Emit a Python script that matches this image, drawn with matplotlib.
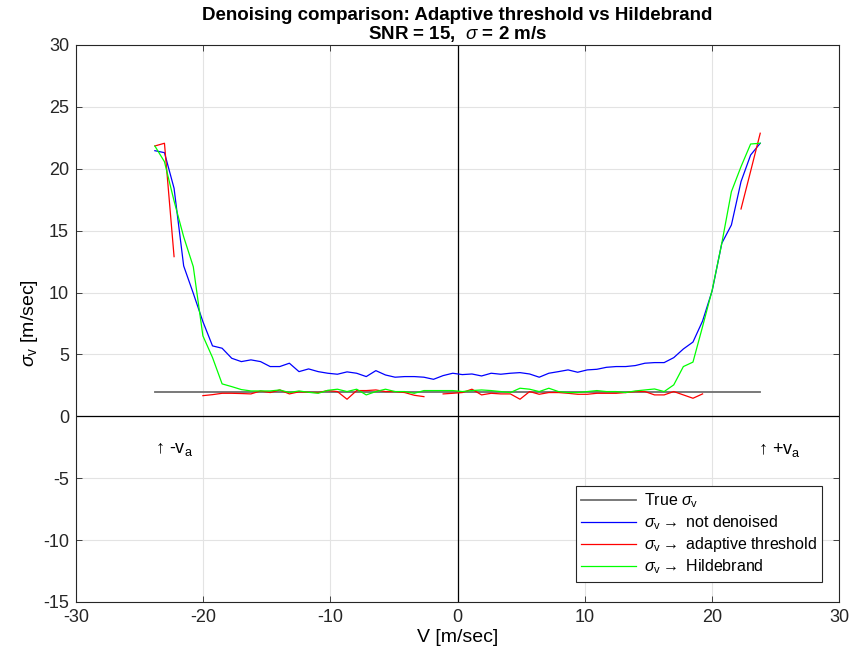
import numpy as np
import matplotlib
matplotlib.use("Agg")
import matplotlib.pyplot as plt

plt.rcParams['font.family'] = ['Liberation Sans', 'DejaVu Sans']
plt.rcParams['mathtext.fontset'] = 'custom'
plt.rcParams['mathtext.rm'] = 'Liberation Sans'
plt.rcParams['mathtext.it'] = 'Liberation Sans:italic'
plt.rcParams['mathtext.bf'] = 'Liberation Sans:bold'
plt.rcParams['axes.unicode_minus'] = False

# Velocity bins (Nyquist velocity v_a = 23.8 m/s, 64 bins)
v_a = 23.8
n_bins = 64
velocity = np.linspace(-v_a, v_a, n_bins)

true_sigma = 2.0

sigma_raw = [21.46, 21.30, 18.42, 12.15, 9.94, 7.65, 5.69, 5.50, 4.69, 4.42,
             4.56, 4.42, 4.02, 4.02, 4.29, 3.61, 3.83, 3.61, 3.48, 3.40,
             3.59, 3.48, 3.21, 3.69, 3.34, 3.16, 3.21, 3.21, 3.16, 2.99,
             3.29, 3.48, 3.37, 3.42, 3.26, 3.48, 3.40, 3.48, 3.53, 3.42,
             3.16, 3.48, 3.61, 3.75, 3.56, 3.75, 3.80, 3.96, 4.02, 4.02,
             4.10, 4.29, 4.34, 4.34, 4.74, 5.44, 6.00, 7.70, 10.15, 13.98,
             15.46, 18.96, 21.11, 22.06]

nan = np.nan
sigma_adaptive = [21.84, 22.06, 12.90, nan, nan, 1.67, 1.75, 1.86, 1.86, 1.84,
                  1.81, 2.05, 1.92, 2.13, 1.81, 1.98, 1.94, 1.92, 2.08, 2.00,
                  1.38, 2.08, 2.08, 2.13, 2.00, 2.00, 1.92, 1.70, 1.59, nan,
                  1.81, 1.86, 1.92, 2.19, 1.73, 1.86, 1.81, 1.81, 1.38, 2.00,
                  1.78, 1.92, 1.92, 1.86, 1.78, 1.78, 1.86, 1.86, 1.86, 1.92,
                  2.00, 2.00, 1.73, 1.73, 2.00, 1.73, 1.46, 1.81, nan, nan,
                  nan, 16.75, 19.80, 22.87]

sigma_hildebrand = [21.84, 20.57, 17.40, 14.50, 12.09, 6.50, 4.75, 2.62, 2.40, 2.16,
                    2.05, 2.05, 2.05, 2.13, 1.92, 2.05, 1.94, 1.86, 2.10, 2.19,
                    2.00, 2.19, 1.73, 2.00, 2.19, 2.00, 2.00, 1.86, 2.08, 2.08,
                    2.08, 2.08, 2.00, 2.08, 2.13, 2.08, 2.00, 1.92, 2.27, 2.19,
                    2.00, 2.27, 2.00, 1.92, 1.92, 2.00, 2.08, 2.00, 2.00, 1.92,
                    2.05, 2.13, 2.21, 2.00, 2.54, 4.02, 4.38, 7.25, 10.20, 13.98,
                    18.15, 20.17, 22.00, 22.06]

x_ticks = [-30, -20, -10, 0, 10, 20, 30]
y_ticks = [-15, -10, -5, 0, 5, 10, 15, 20, 25, 30]

fig = plt.figure(figsize=(8.51, 6.48), dpi=100)
ax = fig.add_axes([0.0893, 0.0710, 0.8967, 0.8596])

ax.set_xlim(-30, 30)
ax.set_ylim(-15, 30)
ax.set_xticks(x_ticks)
ax.set_yticks(y_ticks)
ax.grid(True, color='#e3e3e3', linewidth=0.8)
ax.set_axisbelow(True)

# zero axes
ax.axhline(0, color='black', linewidth=0.9, zorder=1.5)
ax.axvline(0, color='black', linewidth=0.9, zorder=1.5)

ax.plot([velocity[0], velocity[-1]], [true_sigma, true_sigma], color='#6e6e6e',
        linewidth=1.3, label=r'True $\sigma_{\rm v}$')
ax.plot(velocity, sigma_raw, color='#0000ff', linewidth=0.9,
        label=r'$\sigma_{\rm v} \rightarrow$ not denoised')
ax.plot(velocity, sigma_adaptive, color='#ff0000', linewidth=0.9,
        label=r'$\sigma_{\rm v} \rightarrow$ adaptive threshold')
ax.plot(velocity, sigma_hildebrand, color='#00ff00', linewidth=0.9,
        label=r'$\sigma_{\rm v} \rightarrow$ Hildebrand')

ax.text(-v_a, -2.7, '\u2191 -v$_{\\rm a}$', fontsize=13, ha='left', va='center')
ax.text(v_a - 0.2, -2.7, '\u2191 +v$_{\\rm a}$', fontsize=13, ha='left', va='center')

ax.tick_params(direction='in', length=4, width=0.6, labelsize=13, colors='#262626',
               top=True, right=True, pad=5)
for s in ax.spines.values():
    s.set_color('#262626')
    s.set_linewidth(0.8)

ax.set_xlabel('V [m/sec]', fontsize=14, labelpad=2)
ax.set_ylabel(r'$\sigma_{\rm v}$ [m/sec]', fontsize=14, labelpad=2)
ax.set_title('Denoising comparison: Adaptive threshold vs Hildebrand\n'
             r'SNR = 15,  $\sigma$ = 2 m/s', fontsize=13.5, fontweight='bold',
             linespacing=1.0, pad=4)

leg = ax.legend(loc='lower right', bbox_to_anchor=(0.978, 0.036), borderaxespad=0,
                fontsize=11.5, frameon=True, fancybox=False, edgecolor='#262626',
                framealpha=1, handlelength=3.4, borderpad=0.35, labelspacing=0.2,
                handletextpad=0.5)
leg.get_frame().set_linewidth(0.8)

fig.savefig('out.png', dpi=100)
